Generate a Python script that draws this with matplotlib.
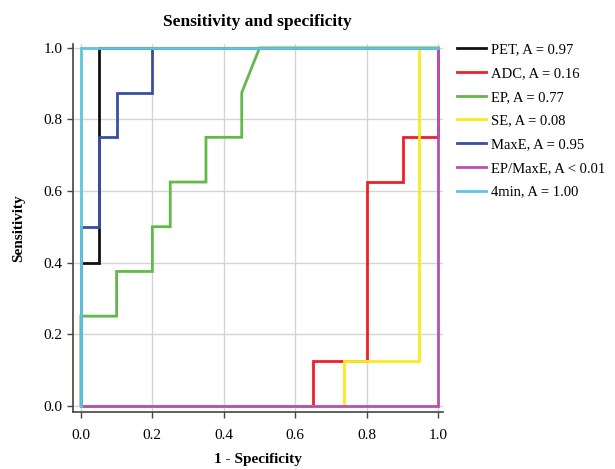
import matplotlib
matplotlib.use("Agg")
import matplotlib.pyplot as plt

plt.rcParams['font.family'] = ['Liberation Serif', 'DejaVu Serif']

# ROC curves (1 - specificity, sensitivity)
pet_x = [0.0, 0.0, 0.05, 0.05, 1.0]
pet_y = [0.0, 0.4, 0.4, 1.0, 1.0]

adc_x = [0.0, 0.65, 0.65, 0.8, 0.8, 0.9, 0.9, 1.0, 1.0]
adc_y = [0.0, 0.0, 0.125, 0.125, 0.625, 0.625, 0.75, 0.75, 1.0]

ep_x = [0.0, 0.0, 0.1, 0.1, 0.2, 0.2, 0.25, 0.25, 0.35, 0.35, 0.45, 0.45, 0.5, 1.0]
ep_y = [0.0, 0.25, 0.25, 0.375, 0.375, 0.5, 0.5, 0.625, 0.625, 0.75, 0.75, 0.875, 1.0, 1.0]

se_x = [0.0, 0.737, 0.737, 0.947, 0.947, 1.0]
se_y = [0.0, 0.0, 0.125, 0.125, 1.0, 1.0]

maxe_x = [0.0, 0.0, 0.05, 0.05, 0.1, 0.1, 0.2, 0.2, 1.0]
maxe_y = [0.0, 0.5, 0.5, 0.75, 0.75, 0.875, 0.875, 1.0, 1.0]

epmaxe_x = [0.0, 1.0, 1.0]
epmaxe_y = [0.0, 0.0, 1.0]

min4_x = [0.0, 0.0, 1.0]
min4_y = [0.0, 1.0, 1.0]

labels = ["PET, A = 0.97", "ADC, A = 0.16", "EP, A = 0.77", "SE, A = 0.08",
          "MaxE, A = 0.95", "EP/MaxE, A < 0.01", "4min, A = 1.00"]
colors = ["#111111", "#ee2027", "#62b94a", "#f7ec1c", "#3b4ea1", "#b84fb2", "#5ec6dc"]

curves = [(pet_x, pet_y), (adc_x, adc_y), (ep_x, ep_y), (se_x, se_y),
          (maxe_x, maxe_y), (epmaxe_x, epmaxe_y), (min4_x, min4_y)]

fig = plt.figure(figsize=(6.15, 4.69), dpi=100)
ax = fig.add_axes([0.1187, 0.1215, 0.601, 0.784])

for (xs, ys), lab, col in zip(curves, labels, colors):
    ax.plot(xs, ys, color=col, linewidth=2, label=lab, solid_joinstyle='miter')

ax.set_xlim(-0.022, 1.012)
ax.set_ylim(-0.018, 1.01)
ax.set_xticks([0.0, 0.2, 0.4, 0.6, 0.8, 1.0])
ax.set_yticks([0.0, 0.2, 0.4, 0.6, 0.8, 1.0])
ax.xaxis.set_major_formatter(matplotlib.ticker.FormatStrFormatter('%.1f'))
ax.yaxis.set_major_formatter(matplotlib.ticker.FormatStrFormatter('%.1f'))
ax.grid(True, color='#d4d4d4', linewidth=1)
ax.set_axisbelow(True)
for s in ['top', 'right']:
    ax.spines[s].set_visible(False)
for s in ['left', 'bottom']:
    ax.spines[s].set_color('#444444')
    ax.spines[s].set_linewidth(1.2)
ax.tick_params(length=4, width=1, color='#444444', labelsize=11)
ax.tick_params(axis='x', pad=8)

ax.set_title("Sensitivity and specificity", fontsize=12.5, fontweight='bold', pad=13)
ax.set_xlabel("1 - Specificity", fontsize=11, fontweight='bold', labelpad=8)
ax.set_ylabel("Sensitivity", fontsize=11, fontweight='bold', labelpad=13)

fig.legend(loc='upper left', bbox_to_anchor=(0.743, 0.908), frameon=False,
           fontsize=10.5, handlelength=2.0, handletextpad=0.35, labelspacing=0.72,
           borderaxespad=0, borderpad=0)

fig.savefig("out.png", dpi=100)
